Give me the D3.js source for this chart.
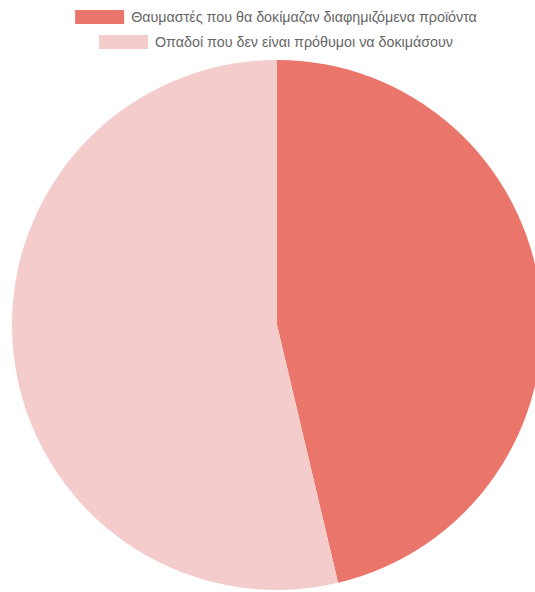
<!DOCTYPE html>
<html>
<head>
<meta charset="utf-8">
<script src="https://cdn.jsdelivr.net/npm/d3@7"></script>
<style>
  body { margin: 0; background: #fff; overflow: hidden; }
  svg { display: block; }
</style>
</head>
<body>
<div id="chart"></div>
<script>
// Chart data
const labels = [
  'Θαυμαστές που θα δοκίμαζαν διαφημιζόμενα προϊόντα',
  'Οπαδοί που δεν είναι πρόθυμοι να δοκιμάσουν'
];
const values = [46.3, 53.7];
const colors = ['#ea766b', '#f4cccb'];

const width = 535;
const height = 592;

let svg = d3.select('#chart')
  .append('svg')
  .attr('width', width)
  .attr('height', height);

// Pie
let cx = 277, cy = 325, radius = 265;

let pie = d3.pie().sort(null).value(d => d)(values);
let arc = d3.arc().innerRadius(0).outerRadius(radius);

svg.append('g')
   .attr('transform', 'translate(' + cx + ',' + cy + ')')
   .selectAll('path')
   .data(pie)
   .enter()
   .append('path')
   .attr('d', arc)
   .attr('fill', (d, i) => colors[i]);

// Legend, one item per row, centred
let rowY = [17, 42];
labels.forEach((label, i) => {
  let g = svg.append('g');
  let txt = g.append('text')
     .attr('y', rowY[i])
     .attr('dy', '0.35em')
     .style('font-family', '"Liberation Sans", Arial, sans-serif')
     .style('font-size', '14.3px')
     .attr('fill', '#666')
     .text(label);
  let tw = txt.node().getComputedTextLength();
  let boxW = 49, gap = 7;
  let x0 = 276 - (boxW + gap + tw) / 2;
  g.append('rect')
   .attr('x', x0)
   .attr('y', rowY[i] - 7)
   .attr('width', boxW)
   .attr('height', 14)
   .attr('fill', colors[i]);
  txt.attr('x', x0 + boxW + gap);
});
</script>
</body>
</html>
